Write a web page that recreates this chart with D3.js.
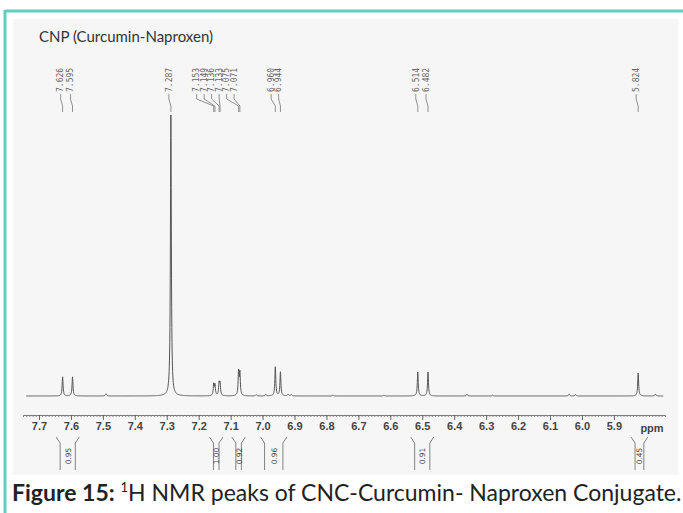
<!DOCTYPE html>
<html lang="en">
<head>
	<meta charset="utf-8">
	<title>CNP 1H NMR</title>
	<script src="https://d3js.org/d3.v7.min.js"></script>
	<style>
		body { margin: 0; background: #fff; }
	</style>
</head>
<body>
	<script>
	// peaks (ppm, relative height, 7.287 = 100)
	var peakPpm    = [7.626, 7.595, 7.287, 7.153, 7.149, 7.136, 7.133, 7.075, 7.071, 6.960, 6.944, 6.514, 6.482, 5.824];
	var peakHeight = [6.8,   6.8,   100,   4.0,   3.8,   4.3,   4.1,   8.4,   7.9,   10.3,  8.5,   8.5,   8.5,   8.2];
	var peakLabels = ["7.626", "7.595", "7.287", "7.153", "7.149", "7.136", "7.133", "7.075", "7.071", "6.960", "6.944", "6.514", "6.482", "5.824"];

	// tiny baseline bumps
	var bumpPpm    = [7.49, 7.02, 6.99, 6.92, 6.91, 6.78, 6.62, 6.36, 6.28, 6.04, 6.02, 5.77];
	var bumpHeight = [0.8,  0.4,  0.5,  0.6,  0.5,  0.3,  0.3,  0.6,  0.3,  0.7,  0.5,  0.7];

	// integrals
	var intFrom  = [7.64, 7.16, 7.09, 7.00, 6.53, 5.84];
	var intTo    = [7.58, 7.13, 7.06, 6.93, 6.47, 5.80];
	var intValue = ["0.95", "1.00", "0.92", "0.96", "0.91", "0.45"];

	var axisTicks = [7.7, 7.6, 7.5, 7.4, 7.3, 7.2, 7.1, 7.0, 6.9, 6.8, 6.7, 6.6, 6.5, 6.4, 6.3, 6.2, 6.1, 6.0, 5.9];

	var w = 683, h = 513;
	var svg = d3.select("body").append("svg")
		.attr("width", w).attr("height", h);

	// frame
	svg.append("rect").attr("x", 13).attr("y", 19).attr("width", 665).attr("height", 456)
		.attr("fill", "#f6f6f6");
	svg.append("line").attr("x1", 5).attr("x2", 683).attr("y1", 11).attr("y2", 11)
		.attr("stroke", "#5fcfbc").attr("stroke-width", 3);
	svg.append("line").attr("x1", 5).attr("x2", 5).attr("y1", 10).attr("y2", 513)
		.attr("stroke", "#5fcfbc").attr("stroke-width", 3);

	svg.append("text").attr("x", 39).attr("y", 42)
		.attr("font-family", "Lato").attr("font-size", 15).attr("fill", "#333")
		.text("CNP (Curcumin-Naproxen)");

	var x = d3.scaleLinear().domain([7.75, 5.74]).range([23, 665]);
	var y = d3.scaleLinear().domain([0, 100]).range([396, 115]);

	// spectrum = sum of lorentzians at each peak
	var hw = 0.0017;
	function intensity(p) {
		var s = 0;
		peakPpm.forEach(function(c, i) {
			var d = (p - c) / hw;
			s += peakHeight[i] / (1 + d * d);
		});
		bumpPpm.forEach(function(c, i) {
			var d = (p - c) / 0.002;
			s += bumpHeight[i] / (1 + d * d);
		});
		return s;
	}
	var pts = d3.range(7.74, 5.745, -0.0005).map(function(p) { return [p, intensity(p)]; });
	svg.append("path")
		.datum(pts)
		.attr("fill", "none")
		.attr("stroke", "#555")
		.attr("stroke-width", 1)
		.attr("d", d3.line().x(function(d) { return x(d[0]); }).y(function(d) { return y(d[1]); }));

	// axis
	var axisY = 415;
	var minor = svg.append("g").attr("transform", "translate(0," + axisY + ")")
		.call(d3.axisBottom(x).tickValues(d3.range(7.74, 5.745, -0.01)).tickSize(2).tickFormat(""));
	minor.select(".domain").attr("stroke", "#777");
	minor.selectAll(".tick line").attr("stroke", "#888");
	var major = svg.append("g").attr("transform", "translate(0," + axisY + ")")
		.call(d3.axisBottom(x).tickValues(axisTicks).tickSize(5).tickPadding(2).tickFormat(d3.format(".1f")));
	major.select(".domain").remove();
	major.selectAll(".tick line").attr("stroke", "#666");
	major.selectAll("text")
		.attr("font-family", "Liberation Sans").attr("font-weight", "bold")
		.attr("font-size", 11).attr("fill", "#444");
	svg.append("text").attr("x", 652).attr("y", 432).attr("text-anchor", "middle")
		.attr("font-family", "Liberation Sans").attr("font-weight", "bold")
		.attr("font-size", 11).attr("fill", "#444").text("ppm");

	// peak labels: group close ones, spread each group evenly around its centre
	var gap = 7.5;
	var groups = [];
	peakPpm.forEach(function(p, i) {
		groups.push({ idx: [i], sum: x(p) });
		// merge while the new group overlaps the previous one
		while (groups.length > 1) {
			var b = groups[groups.length - 1], a = groups[groups.length - 2];
			var aEnd = a.sum / a.idx.length + (a.idx.length - 1) * gap / 2;
			var bStart = b.sum / b.idx.length - (b.idx.length - 1) * gap / 2;
			if (bStart - aEnd >= gap) break;
			a.idx = a.idx.concat(b.idx);
			a.sum += b.sum;
			groups.pop();
		}
	});
	var labelX = [];
	groups.forEach(function(g) {
		var n = g.idx.length;
		var first = g.sum / n - (n - 1) * gap / 2;
		var shift = n > 4 ? -9 : (n > 1 ? -3 : -2);
		g.idx.forEach(function(j, k) { labelX[j] = first + k * gap + shift; });
	});

	var lab = svg.append("g").selectAll("g").data(peakLabels).enter().append("g");
	lab.append("text")
		.attr("transform", function(d, i) { return "translate(" + (labelX[i] + 2.8) + ",92) rotate(-90)"; })
		.attr("font-family", "DejaVu Sans Mono").attr("font-size", 8).attr("fill", "#666")
		.text(function(d) { return d; });
	lab.append("path")
		.attr("fill", "none").attr("stroke", "#777").attr("stroke-width", 0.8)
		.attr("d", function(d, i) {
			var px = x(peakPpm[i]);
			return "M" + labelX[i] + ",94 L" + labelX[i] + ",99 L" + px + ",106 L" + px + ",112";
		});

	// integrals
	var ig = svg.append("g").selectAll("g").data(intValue).enter().append("g");
	ig.append("path")
		.attr("fill", "none").attr("stroke", "#666").attr("stroke-width", 0.8)
		.attr("d", function(d, i) {
			var a = x(intFrom[i]), b = x(intTo[i]);
			return "M" + (a - 2) + ",437 L" + (a + 2) + ",443 L" + (a + 2) + ",470" +
				" M" + (b + 2) + ",437 L" + (b - 2) + ",443 L" + (b - 2) + ",470";
		});
	ig.append("text")
		.attr("transform", function(d, i) {
			return "translate(" + ((x(intFrom[i]) + x(intTo[i])) / 2 + 3) + ",456) rotate(-90)";
		})
		.attr("text-anchor", "middle")
		.attr("font-family", "DejaVu Sans").attr("font-size", 7.5).attr("fill", "#444")
		.text(function(d) { return d; });

	// caption
	var cap = svg.append("text").attr("x", 12).attr("y", 501)
		.attr("font-family", "Lato").attr("font-size", 23).attr("fill", "#222");
	cap.append("tspan").attr("font-weight", "bold").text("Figure 15:");
	cap.append("tspan").text(" ");
	cap.append("tspan").attr("font-size", 13).attr("dy", -9).text("1");
	cap.append("tspan").attr("dy", 9).text("H NMR peaks of CNC-Curcumin- Naproxen Conjugate.");
	</script>
</body>
</html>
